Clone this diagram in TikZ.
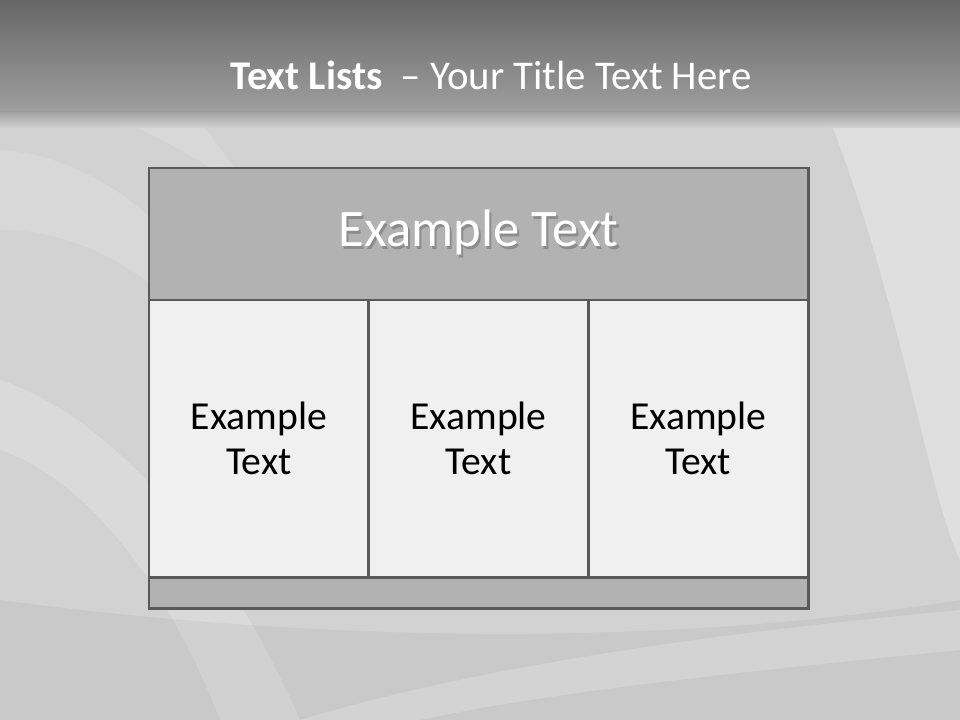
\documentclass[tikz,border=0pt]{standalone}
\usepackage{fontspec}
\setmainfont{Carlito}
\usetikzlibrary{positioning}

\definecolor{bordergray}{HTML}{595959}
\definecolor{headgray}{HTML}{B2B2B2}
\definecolor{cellgray}{HTML}{F0F0F0}
\definecolor{backgray}{HTML}{D2D2D2}

\newcommand{\shadowtext}[1]{\rlap{\kern1.6pt\raisebox{-1.8pt}{\textcolor{black!45}{#1}}}#1}

\tikzset{
  panel/.style={draw=bordergray, line width=2pt, outer sep=0pt, inner sep=0pt},
  headbox/.style={panel, fill=headgray, minimum width=16.475cm, minimum height=3.3cm,
    text=white, font=\fontsize{37.5}{42}\selectfont},
  cellbox/.style={panel, fill=cellgray, minimum width=5.4917cm, minimum height=6.925cm,
    align=center, font=\fontsize{28.2}{32}\selectfont},
  footbox/.style={panel, fill=headgray, minimum width=16.475cm, minimum height=0.775cm},
  swirl/.style={fill=white, draw=none}
}

\begin{document}
\begin{tikzpicture}[x=0.025cm, y=-0.025cm]
  % background
  \fill[backgray] (0,0) rectangle (960,720);
  \useasboundingbox (0,0) rectangle (960,720);
  \fill[swirl, opacity=0.3] (830,120) .. controls (900,300) and (930,500) .. (960,560)
    -- (960,120) -- cycle;
  \fill[swirl, opacity=0.15] (0,150) .. controls (150,160) and (260,320) .. (330,520)
    .. controls (250,360) and (140,230) .. (0,230) -- cycle;
  \fill[swirl, opacity=0.18] (0,380) .. controls (120,420) and (230,560) .. (300,720)
    -- (220,720) .. controls (170,590) and (90,480) .. (0,450) -- cycle;
  \fill[swirl, opacity=0.15] (120,120) .. controls (300,200) and (420,330) .. (520,560)
    .. controls (400,360) and (260,210) .. (200,120) -- cycle;
  \fill[black, opacity=0.04] (0,600) .. controls (300,640) and (650,650) .. (960,600)
    -- (960,720) -- (0,720) -- cycle;
  \fill[swirl, opacity=0.2] (300,720) .. controls (500,660) and (750,630) .. (960,610)
    -- (960,650) .. controls (760,670) and (560,690) .. (420,720) -- cycle;
  % title band
  \shade[top color=black!60, bottom color=black!38] (0,0) rectangle (960,112);
  \shade[top color=black!38, bottom color=backgray, opacity=0.9] (0,112) rectangle (960,128);
  \node[text=white, font=\fontsize{29}{34}\selectfont] (title) at (491,75)
    {\textbf{Text Lists}\ \ – Your Title Text Here};

  % table
  \node[headbox, anchor=north west] (head) at (149,168) {\shadowtext{Example Text}};
  \node[cellbox, anchor=north west] (cellA) at (head.south west) {Example\\Text};
  \node[cellbox, right=0pt of cellA] (cellB) {Example\\Text};
  \node[cellbox, right=0pt of cellB] (cellC) {Example\\Text};
  \node[footbox, anchor=north west] (foot) at (cellA.south west) {};
\end{tikzpicture}
\end{document}
